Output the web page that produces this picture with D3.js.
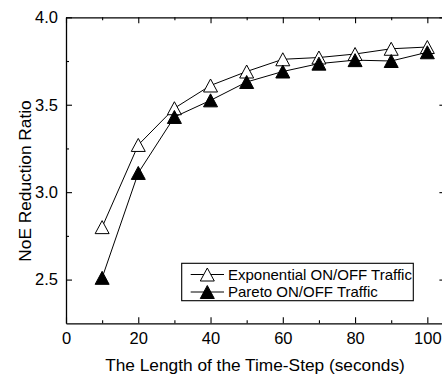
<!DOCTYPE html>
<html>
<head>
<meta charset="utf-8">
<script src="https://cdn.jsdelivr.net/npm/d3@7/dist/d3.min.js"></script>
<style>
  html, body { margin: 0; padding: 0; background: #fff; }
  svg { display: block; }
  text { font-family: "Liberation Sans", Arial, sans-serif; fill: #000; }
</style>
</head>
<body>
<svg id="chart" width="442" height="376"></svg>
<script>
const timeSteps = [10, 20, 30, 40, 50, 60, 70, 80, 90, 100];
const exponentialValues = [2.80, 3.27, 3.48, 3.61, 3.69, 3.76, 3.77, 3.79, 3.82, 3.83];
const paretoValues = [2.51, 3.11, 3.43, 3.525, 3.63, 3.69, 3.735, 3.755, 3.75, 3.80];
const seriesNames = ["Exponential ON/OFF Traffic", "Pareto ON/OFF Traffic"];
const xTickValues = [0, 20, 40, 60, 80, 100];
const xMinorTickValues = [10, 30, 50, 70, 90];
const yTickValues = [2.5, 3.0, 3.5, 4.0];
const yMinorTickValues = [2.75, 3.25, 3.75];
const xTitle = "The Length of the Time-Step (seconds)";
const yTitle = "NoE Reduction Ratio";

(function () {
const svg = d3.select("#chart");
const mLeft = 66, mRight = 445.4, mTop = 17.3, mBottom = 323.3;
const x = d3.scaleLinear().domain([0, 105]).range([mLeft, mRight]);
const y = d3.scaleLinear().domain([2.25, 4.0]).range([mBottom, mTop]);

const majorLen = 6, minorLen = 3;
const axisColor = "#000";

function styleAxis(g) {
  g.select(".domain").attr("stroke", axisColor).attr("stroke-width", 1.3);
  g.selectAll(".tick line").attr("stroke", axisColor).attr("stroke-width", 1.1);
}
function minor(g) {
  g.select(".domain").remove();
  g.selectAll(".tick line").attr("stroke", axisColor).attr("stroke-width", 1.1);
}
// bottom
const gB = svg.append("g").attr("transform", `translate(0,${mBottom})`)
  .call(d3.axisBottom(x).tickValues(xTickValues).tickSizeInner(-majorLen).tickSizeOuter(0).tickPadding(8.5).tickFormat(d3.format("d")));
styleAxis(gB);
gB.selectAll("text").attr("font-size", 16.5).attr("y", 8.5).attr("dy", "0.71em");
svg.append("g").attr("transform", `translate(0,${mBottom})`)
  .call(d3.axisBottom(x).tickValues(xMinorTickValues).tickSizeInner(-minorLen).tickSizeOuter(0).tickFormat(""))
  .call(minor);
// top
const gT = svg.append("g").attr("transform", `translate(0,${mTop})`)
  .call(d3.axisTop(x).tickValues(xTickValues).tickSizeInner(-majorLen).tickSizeOuter(0).tickFormat(""));
styleAxis(gT);
svg.append("g").attr("transform", `translate(0,${mTop})`)
  .call(d3.axisTop(x).tickValues(xMinorTickValues).tickSizeInner(-minorLen).tickSizeOuter(0).tickFormat(""))
  .call(minor);
// left
const gL = svg.append("g").attr("transform", `translate(${mLeft},0)`)
  .call(d3.axisLeft(y).tickValues(yTickValues).tickSizeInner(-majorLen).tickSizeOuter(0).tickPadding(8).tickFormat(d3.format(".1f")));
styleAxis(gL);
gL.selectAll("text").attr("font-size", 16.5);
svg.append("g").attr("transform", `translate(${mLeft},0)`)
  .call(d3.axisLeft(y).tickValues(yMinorTickValues).tickSizeInner(-minorLen).tickSizeOuter(0).tickFormat(""))
  .call(minor);
// right
const gR = svg.append("g").attr("transform", `translate(${mRight},0)`)
  .call(d3.axisRight(y).tickValues(yTickValues).tickSizeInner(-majorLen).tickSizeOuter(0).tickFormat(""));
styleAxis(gR);
svg.append("g").attr("transform", `translate(${mRight},0)`)
  .call(d3.axisRight(y).tickValues(yMinorTickValues).tickSizeInner(-minorLen).tickSizeOuter(0).tickFormat(""))
  .call(minor);

// Axis titles
svg.append("text").attr("x", 255).attr("y", 371).attr("text-anchor", "middle")
  .attr("font-size", 17.3).text(xTitle);
svg.append("text").attr("transform", "translate(31,181) rotate(-90)").attr("text-anchor", "middle")
  .attr("font-size", 17.3).text(yTitle);

const tw = 14, th = 13;
function tri(cx, cy, w = tw, h = th) {
  return `M${cx},${cy - h / 2}L${cx + w / 2},${cy + h / 2}L${cx - w / 2},${cy + h / 2}Z`;
}

const line = d3.line().x(d => x(d[0])).y(d => y(d[1]));
const seriesData = [
  { name: seriesNames[0], values: exponentialValues, fill: "#fff" },
  { name: seriesNames[1], values: paretoValues, fill: "#000" }
];

const plot = svg.append("g");
seriesData.forEach(s => {
  const pts = timeSteps.map((t, i) => [t, s.values[i]]);
  plot.append("path").attr("d", line(pts)).attr("fill", "none").attr("stroke", "#000").attr("stroke-width", 1);
});
seriesData.forEach(s => {
  const pts = timeSteps.map((t, i) => [t, s.values[i]]);
  plot.selectAll(null).data(pts).enter().append("path")
    .attr("d", d => tri(x(d[0]), y(d[1])))
    .attr("fill", s.fill).attr("stroke", "#000").attr("stroke-width", 1);
});

// Legend
const lg = svg.append("g");
lg.append("rect").attr("x", 181.7).attr("y", 263.3).attr("width", 231.6).attr("height", 37.4)
  .attr("fill", "#fff").attr("stroke", "#000").attr("stroke-width", 1.1);
seriesData.forEach((s, i) => {
  const ly = 274.5 + i * 17.5;
  lg.append("line").attr("x1", 190.7).attr("x2", 224).attr("y1", ly).attr("y2", ly)
    .attr("stroke", "#000").attr("stroke-width", 1);
  lg.append("path").attr("d", tri(207.3, ly)).attr("fill", s.fill).attr("stroke", "#000").attr("stroke-width", 1);
  lg.append("text").attr("x", 228).attr("y", ly).attr("dy", "0.36em").attr("font-size", 15).text(s.name);
});
})();
</script>
</body>
</html>
